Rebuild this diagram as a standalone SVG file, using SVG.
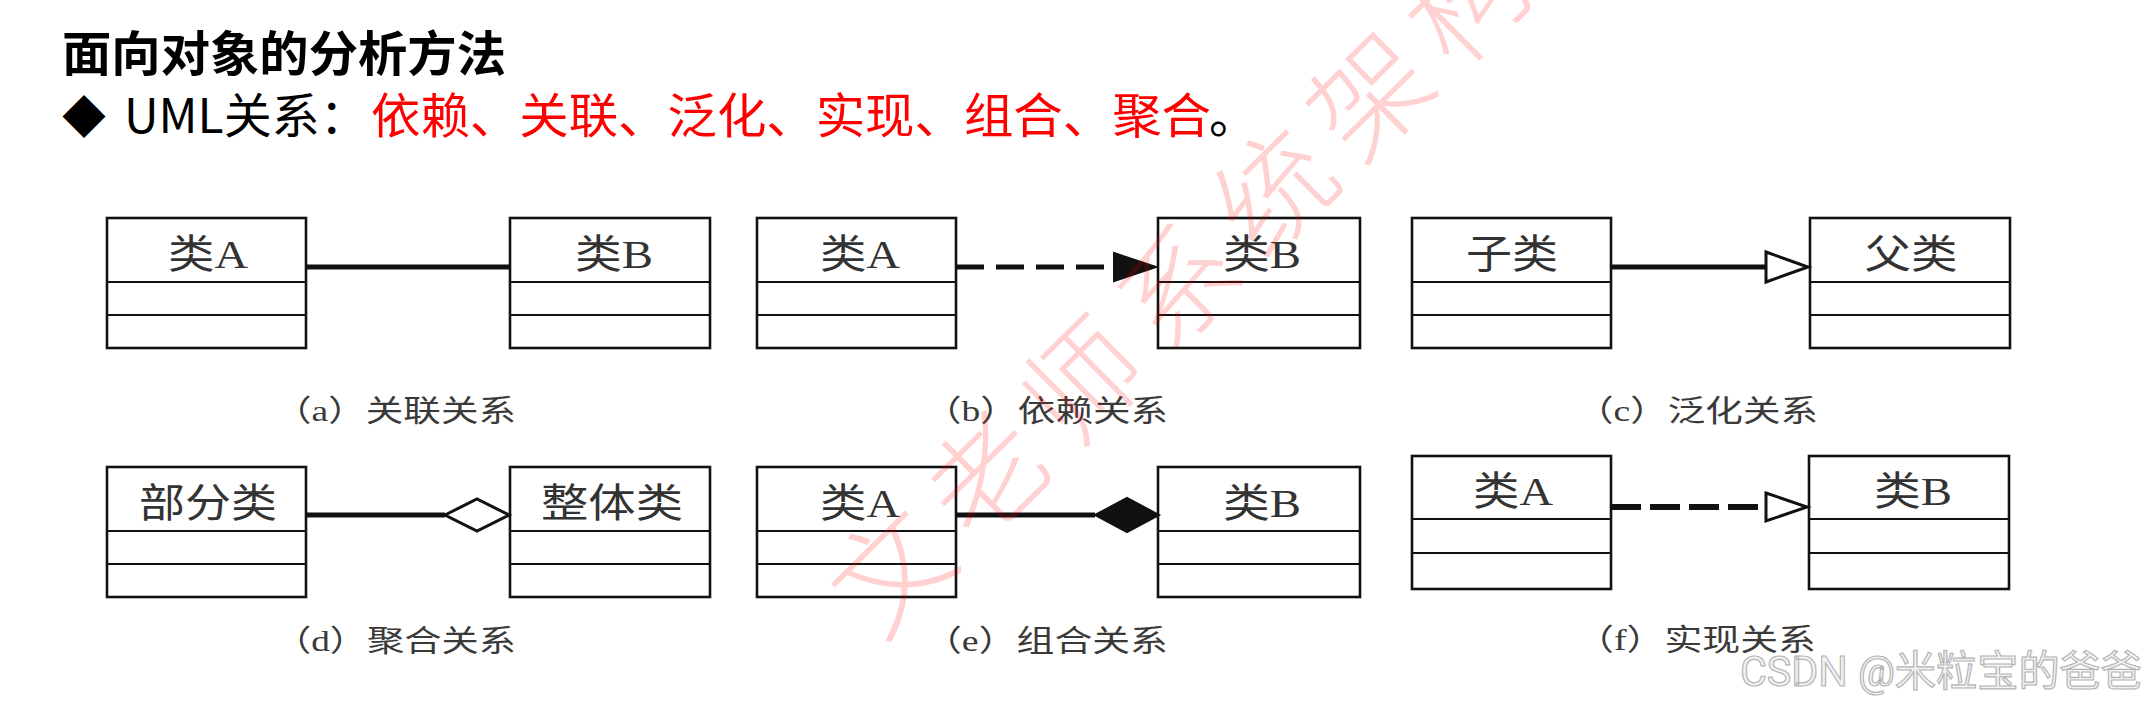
<svg xmlns="http://www.w3.org/2000/svg" width="2148" height="704" viewBox="0 0 2148 704">
<style>
.box{fill:none;stroke:#111;stroke-width:2.6}
.div{stroke:#111;stroke-width:2.2}
.lbl{font-family:"Liberation Serif","Noto Sans CJK SC",serif;font-size:40px;fill:#333;text-anchor:middle}
.cap{font-family:"Liberation Serif","Noto Sans CJK SC",serif;font-size:30px;fill:#3a3a3a}
.solid{stroke:#111;stroke-width:5;fill:none}
.dash{stroke:#111;stroke-width:5;fill:none;stroke-dasharray:28 12}
.dash2{stroke:#111;stroke-width:6;fill:none;stroke-dasharray:30 9}
.hollow{fill:#fff;stroke:#111;stroke-width:3;stroke-linejoin:miter}
.filled{fill:#111;stroke:#111;stroke-width:2}
.head{font-family:"Noto Sans CJK SC",sans-serif}
</style>
<rect width="2148" height="704" fill="#fff"/>
<g id="header">
<text class="head" x="62" y="71" font-size="48" font-weight="700" fill="#000" textLength="444" lengthAdjust="spacingAndGlyphs">面向对象的分析方法</text>
<text class="head" x="62" y="133" font-size="44" fill="#000">◆</text>
<text class="head" x="124" y="133" font-size="48" fill="#000">UML关系：</text>
<text class="head" x="371" y="133" font-size="48" fill="#ff0000" textLength="840" lengthAdjust="spacingAndGlyphs">依赖、关联、泛化、实现、组合、聚合</text>
<text class="head" x="1209" y="133" font-size="48" fill="#000">。</text>
</g>
<g id="connectors">
<line class="solid" x1="306" y1="267" x2="510" y2="267"/>
<line class="dash" x1="956" y1="267" x2="1116" y2="267"/>
<polygon class="filled" points="1114,253 1156,267 1114,281"/>
<line class="solid" x1="1611" y1="267" x2="1766" y2="267"/>
<polygon class="hollow" points="1766,252 1808,267 1766,282"/>
<line class="solid" x1="306" y1="515" x2="445" y2="515"/>
<polygon class="hollow" points="445,515 477,499 509,515 477,531"/>
<line class="solid" x1="956" y1="515" x2="1095" y2="515"/>
<polygon class="filled" points="1095,515 1127,498 1159,515 1127,532"/>
<line class="dash2" x1="1611" y1="507" x2="1762" y2="507"/>
<polygon class="hollow" points="1766,493 1807,507 1766,521"/>
</g>
<g id="a-classA"><rect class="box" x="107" y="218" width="199" height="130"/><line class="div" x1="107" y1="282" x2="306" y2="282"/><line class="div" x1="107" y1="315" x2="306" y2="315"/><text class="lbl" x="208" y="268" textLength="80" lengthAdjust="spacingAndGlyphs">类A</text></g>
<g id="a-classB"><rect class="box" x="510" y="218" width="200" height="130"/><line class="div" x1="510" y1="282" x2="710" y2="282"/><line class="div" x1="510" y1="315" x2="710" y2="315"/><text class="lbl" x="614" y="268" textLength="78" lengthAdjust="spacingAndGlyphs">类B</text></g>
<g id="b-classA"><rect class="box" x="757" y="218" width="199" height="130"/><line class="div" x1="757" y1="282" x2="956" y2="282"/><line class="div" x1="757" y1="315" x2="956" y2="315"/><text class="lbl" x="860" y="268" textLength="80" lengthAdjust="spacingAndGlyphs">类A</text></g>
<g id="b-classB"><rect class="box" x="1158" y="218" width="202" height="130"/><line class="div" x1="1158" y1="282" x2="1360" y2="282"/><line class="div" x1="1158" y1="315" x2="1360" y2="315"/><text class="lbl" x="1262" y="268" textLength="78" lengthAdjust="spacingAndGlyphs">类B</text></g>
<g id="c-child"><rect class="box" x="1412" y="218" width="199" height="130"/><line class="div" x1="1412" y1="282" x2="1611" y2="282"/><line class="div" x1="1412" y1="315" x2="1611" y2="315"/><text class="lbl" x="1512" y="268" textLength="92" lengthAdjust="spacingAndGlyphs">子类</text></g>
<g id="c-parent"><rect class="box" x="1810" y="218" width="200" height="130"/><line class="div" x1="1810" y1="282" x2="2010" y2="282"/><line class="div" x1="1810" y1="315" x2="2010" y2="315"/><text class="lbl" x="1911" y="268" textLength="93" lengthAdjust="spacingAndGlyphs">父类</text></g>
<g id="d-part"><rect class="box" x="107" y="467" width="199" height="130"/><line class="div" x1="107" y1="531" x2="306" y2="531"/><line class="div" x1="107" y1="564" x2="306" y2="564"/><text class="lbl" x="208" y="517" textLength="138" lengthAdjust="spacingAndGlyphs">部分类</text></g>
<g id="d-whole"><rect class="box" x="510" y="467" width="200" height="130"/><line class="div" x1="510" y1="531" x2="710" y2="531"/><line class="div" x1="510" y1="564" x2="710" y2="564"/><text class="lbl" x="612" y="517" textLength="142" lengthAdjust="spacingAndGlyphs">整体类</text></g>
<g id="e-classA"><rect class="box" x="757" y="467" width="199" height="130"/><line class="div" x1="757" y1="531" x2="956" y2="531"/><line class="div" x1="757" y1="564" x2="956" y2="564"/><text class="lbl" x="860" y="517" textLength="80" lengthAdjust="spacingAndGlyphs">类A</text></g>
<g id="e-classB"><rect class="box" x="1158" y="467" width="202" height="130"/><line class="div" x1="1158" y1="531" x2="1360" y2="531"/><line class="div" x1="1158" y1="564" x2="1360" y2="564"/><text class="lbl" x="1262" y="517" textLength="78" lengthAdjust="spacingAndGlyphs">类B</text></g>
<g id="f-classA"><rect class="box" x="1412" y="456" width="199" height="133"/><line class="div" x1="1412" y1="519" x2="1611" y2="519"/><line class="div" x1="1412" y1="553" x2="1611" y2="553"/><text class="lbl" x="1513" y="505" textLength="80" lengthAdjust="spacingAndGlyphs">类A</text></g>
<g id="f-classB"><rect class="box" x="1809" y="456" width="200" height="133"/><line class="div" x1="1809" y1="519" x2="2009" y2="519"/><line class="div" x1="1809" y1="553" x2="2009" y2="553"/><text class="lbl" x="1913" y="505" textLength="78" lengthAdjust="spacingAndGlyphs">类B</text></g>
<g id="captions">
<text class="cap" x="274" y="421" textLength="242" lengthAdjust="spacingAndGlyphs">（a）关联关系</text>
<text class="cap" x="924" y="421" textLength="244" lengthAdjust="spacingAndGlyphs">（b）依赖关系</text>
<text class="cap" x="1576" y="421" textLength="242" lengthAdjust="spacingAndGlyphs">（c）泛化关系</text>
<text class="cap" x="274" y="651" textLength="242" lengthAdjust="spacingAndGlyphs">（d）聚合关系</text>
<text class="cap" x="924" y="651" textLength="244" lengthAdjust="spacingAndGlyphs">（e）组合关系</text>
<text class="cap" x="1576" y="650" textLength="240" lengthAdjust="spacingAndGlyphs">（f）实现关系</text>
</g>
<g id="watermark">
<text transform="translate(890,570) rotate(-44.7)" x="-58" y="44" font-family="Noto Sans CJK SC, sans-serif" font-size="116" font-weight="300" letter-spacing="19" fill="#ff0000" fill-opacity="0.18">文老师系统架构</text>
<text x="1740" y="686" font-family="Roboto, Noto Sans CJK SC, sans-serif" font-size="42" textLength="402" lengthAdjust="spacingAndGlyphs" fill="#f2f2f2" stroke="#b5b5b5" stroke-width="1.2">CSDN @米粒宝的爸爸</text>
</g>
</svg>
